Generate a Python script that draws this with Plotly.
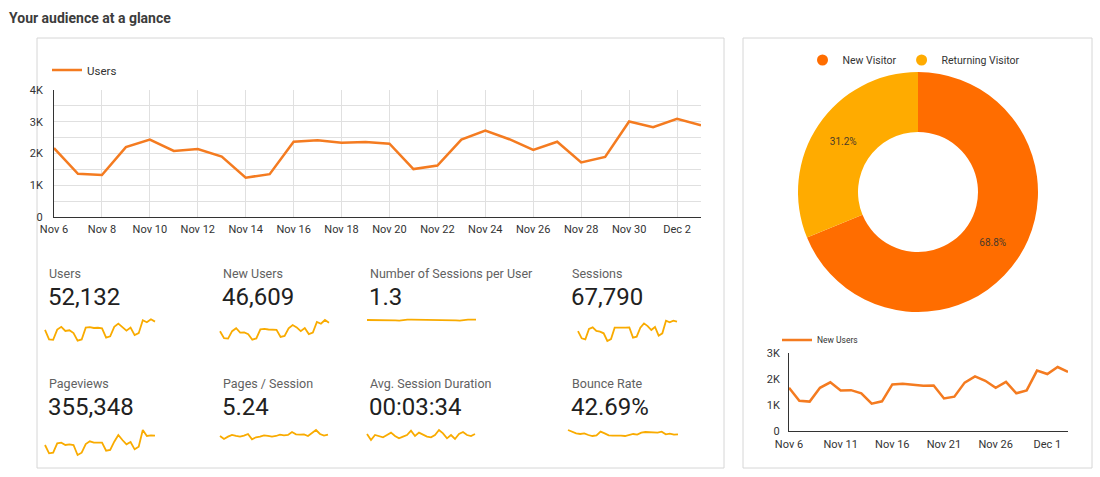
import pandas as pd
import plotly.graph_objects as go

# ---------------- data ----------------
dates = [d.strftime("%Y-%m-%d") for d in pd.date_range("2018-11-06", "2018-12-03", freq="D")]

users = [2170, 1360, 1320, 2200, 2440, 2080, 2140, 1900, 1240, 1350, 2370, 2420, 2340, 2360,
         2310, 1510, 1620, 2440, 2720, 2450, 2110, 2370, 1720, 1890, 3010, 2830, 3090, 2890]
new_users = [1650, 1150, 1120, 1650, 1860, 1550, 1560, 1440, 1040, 1130, 1780, 1810, 1770, 1730,
             1740, 1240, 1310, 1850, 2090, 1920, 1650, 1880, 1440, 1550, 2310, 2180, 2450, 2260]
sessions = [2750, 1910, 1790, 2990, 3180, 2760, 2680, 2490, 1600, 1830, 3140, 3180, 3140, 3140,
            3180, 1990, 2100, 3140, 3640, 3330, 2870, 3220, 2220, 2490, 3950, 3760, 3950, 3830]
pageviews = [11600, 8600, 8840, 12200, 12440, 11600, 11840, 11600, 8000, 8840, 11960, 12920, 12440, 12440,
             12440, 9560, 9800, 12800, 15200, 13400, 11840, 12680, 10040, 11000, 17000, 14840, 15080, 14960]
sessions_per_user = [1.30, 1.30, 1.30, 1.31, 1.31, 1.30, 1.30, 1.29, 1.28, 1.30, 1.31, 1.31, 1.31, 1.30,
                     1.30, 1.29, 1.30, 1.31, 1.31, 1.30, 1.30, 1.30, 1.29, 1.28, 1.30, 1.31, 1.31, 1.31]
pages_per_session = [5.12, 4.76, 5.04, 5.24, 5.12, 5.04, 5.16, 5.36, 4.72, 4.96, 5.04, 5.20, 5.12, 5.04,
                     5.12, 5.28, 5.20, 5.24, 5.60, 5.32, 5.28, 5.32, 5.12, 5.44, 5.84, 5.36, 5.16, 5.28]
avg_session_sec = [220, 184, 214, 208, 200, 214, 228, 208, 194, 204, 214, 240, 208, 228,
                   214, 204, 200, 214, 244, 224, 194, 214, 190, 220, 232, 214, 208, 220]
bounce_rate = [46.3, 44.8, 43.3, 42.7, 43.3, 41.8, 40.9, 41.5, 44.8, 43.3, 41.5, 41.2, 41.5, 41.2,
               40.9, 41.8, 42.7, 42.1, 43.9, 44.5, 44.2, 44.5, 43.9, 44.8, 42.4, 43.0, 42.1, 42.4]

visitor_types = ["New Visitor", "Returning Visitor"]
visitor_share = [68.8, 31.2]

score_labels = ["Users", "New Users", "Number of Sessions per User", "Sessions",
                "Pageviews", "Pages / Session", "Avg. Session Duration", "Bounce Rate"]
score_values = ["52,132", "46,609", "1.3", "67,790", "355,348", "5.24", "00:03:34", "42.69%"]
score_series = [users, new_users, sessions_per_user, sessions,
                pageviews, pages_per_session, avg_session_sec, bounce_rate]

main_y_ticks = [0, 1000, 2000, 3000, 4000]
main_y_text = ["0", "1K", "2K", "3K", "4K"]
side_y_ticks = [0, 1000, 2000, 3000]
side_y_text = ["0", "1K", "2K", "3K"]

# ---------------- styling ----------------
W, H = 1100, 477
FONT = "Roboto"
LINE_ORANGE = "#F47B20"
PIE_ORANGE = "#FF6D00"
PIE_AMBER = "#FFAB00"
SPARK = "#F9AB00"
GRID = "#e0e0e0"
AXIS = "#333333"


def px(x):
    return x / W


def py(y):
    return 1 - y / H


# (label x, label y, value y, spark x0, x1, top value, top y, bottom value, bottom y)
score_layout = [
    (49, 273, 297, 45, 155, 3090, 319.3, 1240, 340.7),
    (223, 273, 297, 220, 329, 2450, 320.0, 1040, 339.7),
    (370, 273, 297, 367, 476, 1.33, 319.0, 1.27, 321.0),
    (572, 273, 297, 578, 677, 3950, 320.7, 1600, 341.0),
    (49, 383, 407, 45, 155, 17000, 430.0, 8000, 455.0),
    (223, 383, 407, 220, 328, 5.84, 430.0, 4.72, 439.3),
    (370, 383, 407, 367, 475, 244, 430.0, 184, 440.0),
    (572, 383, 407, 568, 678, 46.3, 430.0, 40.9, 436.0),
]

fig = go.Figure()

# main Users line
fig.add_trace(go.Scatter(x=dates, y=users, name="Users", mode="lines",
                         line=dict(color=LINE_ORANGE, width=2.5),
                         xaxis="x", yaxis="y", legend="legend2"))

# New Users line (right card)
fig.add_trace(go.Scatter(x=dates, y=new_users, name="New Users", mode="lines",
                         line=dict(color=LINE_ORANGE, width=2.5),
                         xaxis="x2", yaxis="y2", legend="legend3"))

# donut
fig.add_trace(go.Pie(labels=visitor_types, values=visitor_share, hole=0.5, sort=False,
                     direction="clockwise", rotation=0,
                     marker=dict(colors=[PIE_ORANGE, PIE_AMBER]),
                     texttemplate="%{value:.1f}%", textposition="inside",
                     insidetextorientation="horizontal",
                     textfont=dict(family=FONT, size=10, color="#4a3a2a"),
                     showlegend=False,
                     domain=dict(x=[px(798), px(1038)], y=[py(312), py(72)])))

# legend entries for donut (circle symbols)
for name, col in zip(visitor_types, [PIE_ORANGE, PIE_AMBER]):
    fig.add_trace(go.Scatter(x=[None], y=[None], name=name, mode="markers",
                             marker=dict(symbol="circle", size=11, color=col),
                             xaxis="x", yaxis="y", legend="legend"))

layout_axes = {}
# sparklines
t0 = pd.Timestamp(dates[0])
t1 = pd.Timestamp(dates[-1])
for i, (series, spec) in enumerate(zip(score_series, score_layout)):
    k = i + 3
    lx, ly, vy, x0, x1, va, ya, vb, yb = spec
    fig.add_trace(go.Scatter(x=dates, y=series, mode="lines",
                             line=dict(color=SPARK, width=1.8),
                             xaxis=f"x{k}", yaxis=f"y{k}", showlegend=False, hoverinfo="skip"))
    pad = 3
    day_px = (x1 - x0) / (len(dates) - 1)
    pad_t = pd.Timedelta(days=pad / day_px)
    per_px = (va - vb) / (yb - ya)
    layout_axes[f"xaxis{k}"] = dict(domain=[px(x0 - pad), px(x1 + pad)],
                                    range=[(t0 - pad_t).isoformat(), (t1 + pad_t).isoformat()],
                                    type="date", visible=False, anchor=f"y{k}", fixedrange=True,
                                    automargin=False)
    layout_axes[f"yaxis{k}"] = dict(domain=[py(yb + pad), py(ya - pad)],
                                    range=[vb - pad * per_px, va + pad * per_px],
                                    visible=False, anchor=f"x{k}", fixedrange=True,
                                    automargin=False)

annotations = [
    dict(text="<b>Your audience at a glance</b>", x=px(7), y=py(18), xref="paper", yref="paper",
         xanchor="left", yanchor="middle", showarrow=False,
         font=dict(family=FONT, size=14, color="#3c3c3c")),
]
for lab, val, spec in zip(score_labels, score_values, score_layout):
    lx, ly, vy = spec[0], spec[1], spec[2]
    annotations.append(dict(text=lab, x=px(lx - 2), y=py(ly), xref="paper", yref="paper",
                            xanchor="left", yanchor="middle", showarrow=False,
                            font=dict(family=FONT, size=12.5, color="#616161")))
    annotations.append(dict(text=val, x=px(lx - 3), y=py(vy), xref="paper", yref="paper",
                            xanchor="left", yanchor="middle", showarrow=False,
                            font=dict(family=FONT, size=24, color="#212121")))

shapes = [
    dict(type="rect", xref="paper", yref="paper", x0=px(37), x1=px(724), y0=py(468), y1=py(38),
         line=dict(color="#d6d6d6", width=1), layer="below"),
    dict(type="rect", xref="paper", yref="paper", x0=px(743), x1=px(1092), y0=py(468), y1=py(38),
         line=dict(color="#d6d6d6", width=1), layer="below"),
]

fig.update_layout(
    width=W, height=H, autosize=False,
    margin=dict(l=0, r=0, t=0, b=0, pad=0, autoexpand=False),
    paper_bgcolor="white", plot_bgcolor="rgba(0,0,0,0)",
    font=dict(family=FONT, size=11, color=AXIS),
    annotations=annotations, shapes=shapes,
    xaxis=dict(domain=[px(54), px(701)], type="date", range=[dates[0], dates[-1]],
               tick0=dates[0], dtick=2 * 86400000, tickformat="%b %-d",
               showgrid=True, gridcolor=GRID, gridwidth=1,
               showline=True, linecolor=AXIS, linewidth=1, ticks="", automargin=False,
               ticklabelstandoff=2,
               tickfont=dict(family=FONT, size=11, color=AXIS), anchor="y", fixedrange=True),
    yaxis=dict(domain=[py(217), py(90)], range=[0, 4000],
               tickvals=main_y_ticks, ticktext=main_y_text,
               showgrid=True, gridcolor=GRID, gridwidth=1,
               minor=dict(tickvals=[500, 1500, 2500, 3500], showgrid=True, gridcolor=GRID, ticks=""),
               showline=True, linecolor=AXIS, linewidth=1, zeroline=False, ticks="",
               ticklabelstandoff=8, automargin=False,
               tickfont=dict(family=FONT, size=11, color=AXIS), anchor="x", fixedrange=True),
    xaxis2=dict(domain=[px(789), px(1068)], type="date", range=[dates[0], dates[-1]],
                tick0=dates[0], dtick=5 * 86400000, tickformat="%b %-d",
                showgrid=False, showline=True, linecolor=AXIS, linewidth=1, ticks="",
                ticklabelstandoff=3, automargin=False,
                tickfont=dict(family=FONT, size=11, color=AXIS), anchor="y2", fixedrange=True),
    yaxis2=dict(domain=[py(430.7), py(352.7)], range=[0, 3000],
                tickvals=side_y_ticks, ticktext=side_y_text,
                showgrid=False, showline=True, linecolor=AXIS, linewidth=1, zeroline=False,
                ticks="", ticklabelstandoff=6, automargin=False,
                tickfont=dict(family=FONT, size=11, color=AXIS), anchor="x2", fixedrange=True),
    legend=dict(orientation="h", x=px(914), xanchor="center", y=py(60), yanchor="middle",
                font=dict(family=FONT, size=10.5, color="#333"), itemwidth=30,
                bgcolor="rgba(0,0,0,0)"),
    legend2=dict(orientation="h", x=px(47), xanchor="left", y=py(70), yanchor="middle",
                 font=dict(family=FONT, size=11.5, color="#333"), itemwidth=30,
                 bgcolor="rgba(0,0,0,0)"),
    legend3=dict(orientation="h", x=px(777), xanchor="left", y=py(340), yanchor="middle",
                 font=dict(family=FONT, size=8.5, color="#333"), itemwidth=30,
                 bgcolor="rgba(0,0,0,0)"),
    hovermode="closest",
)
fig.update_layout(**layout_axes)

fig.write_html("out.html",
               config={"displayModeBar": False},
               post_script="document.body.style.margin='0';document.body.style.overflow='hidden';")
